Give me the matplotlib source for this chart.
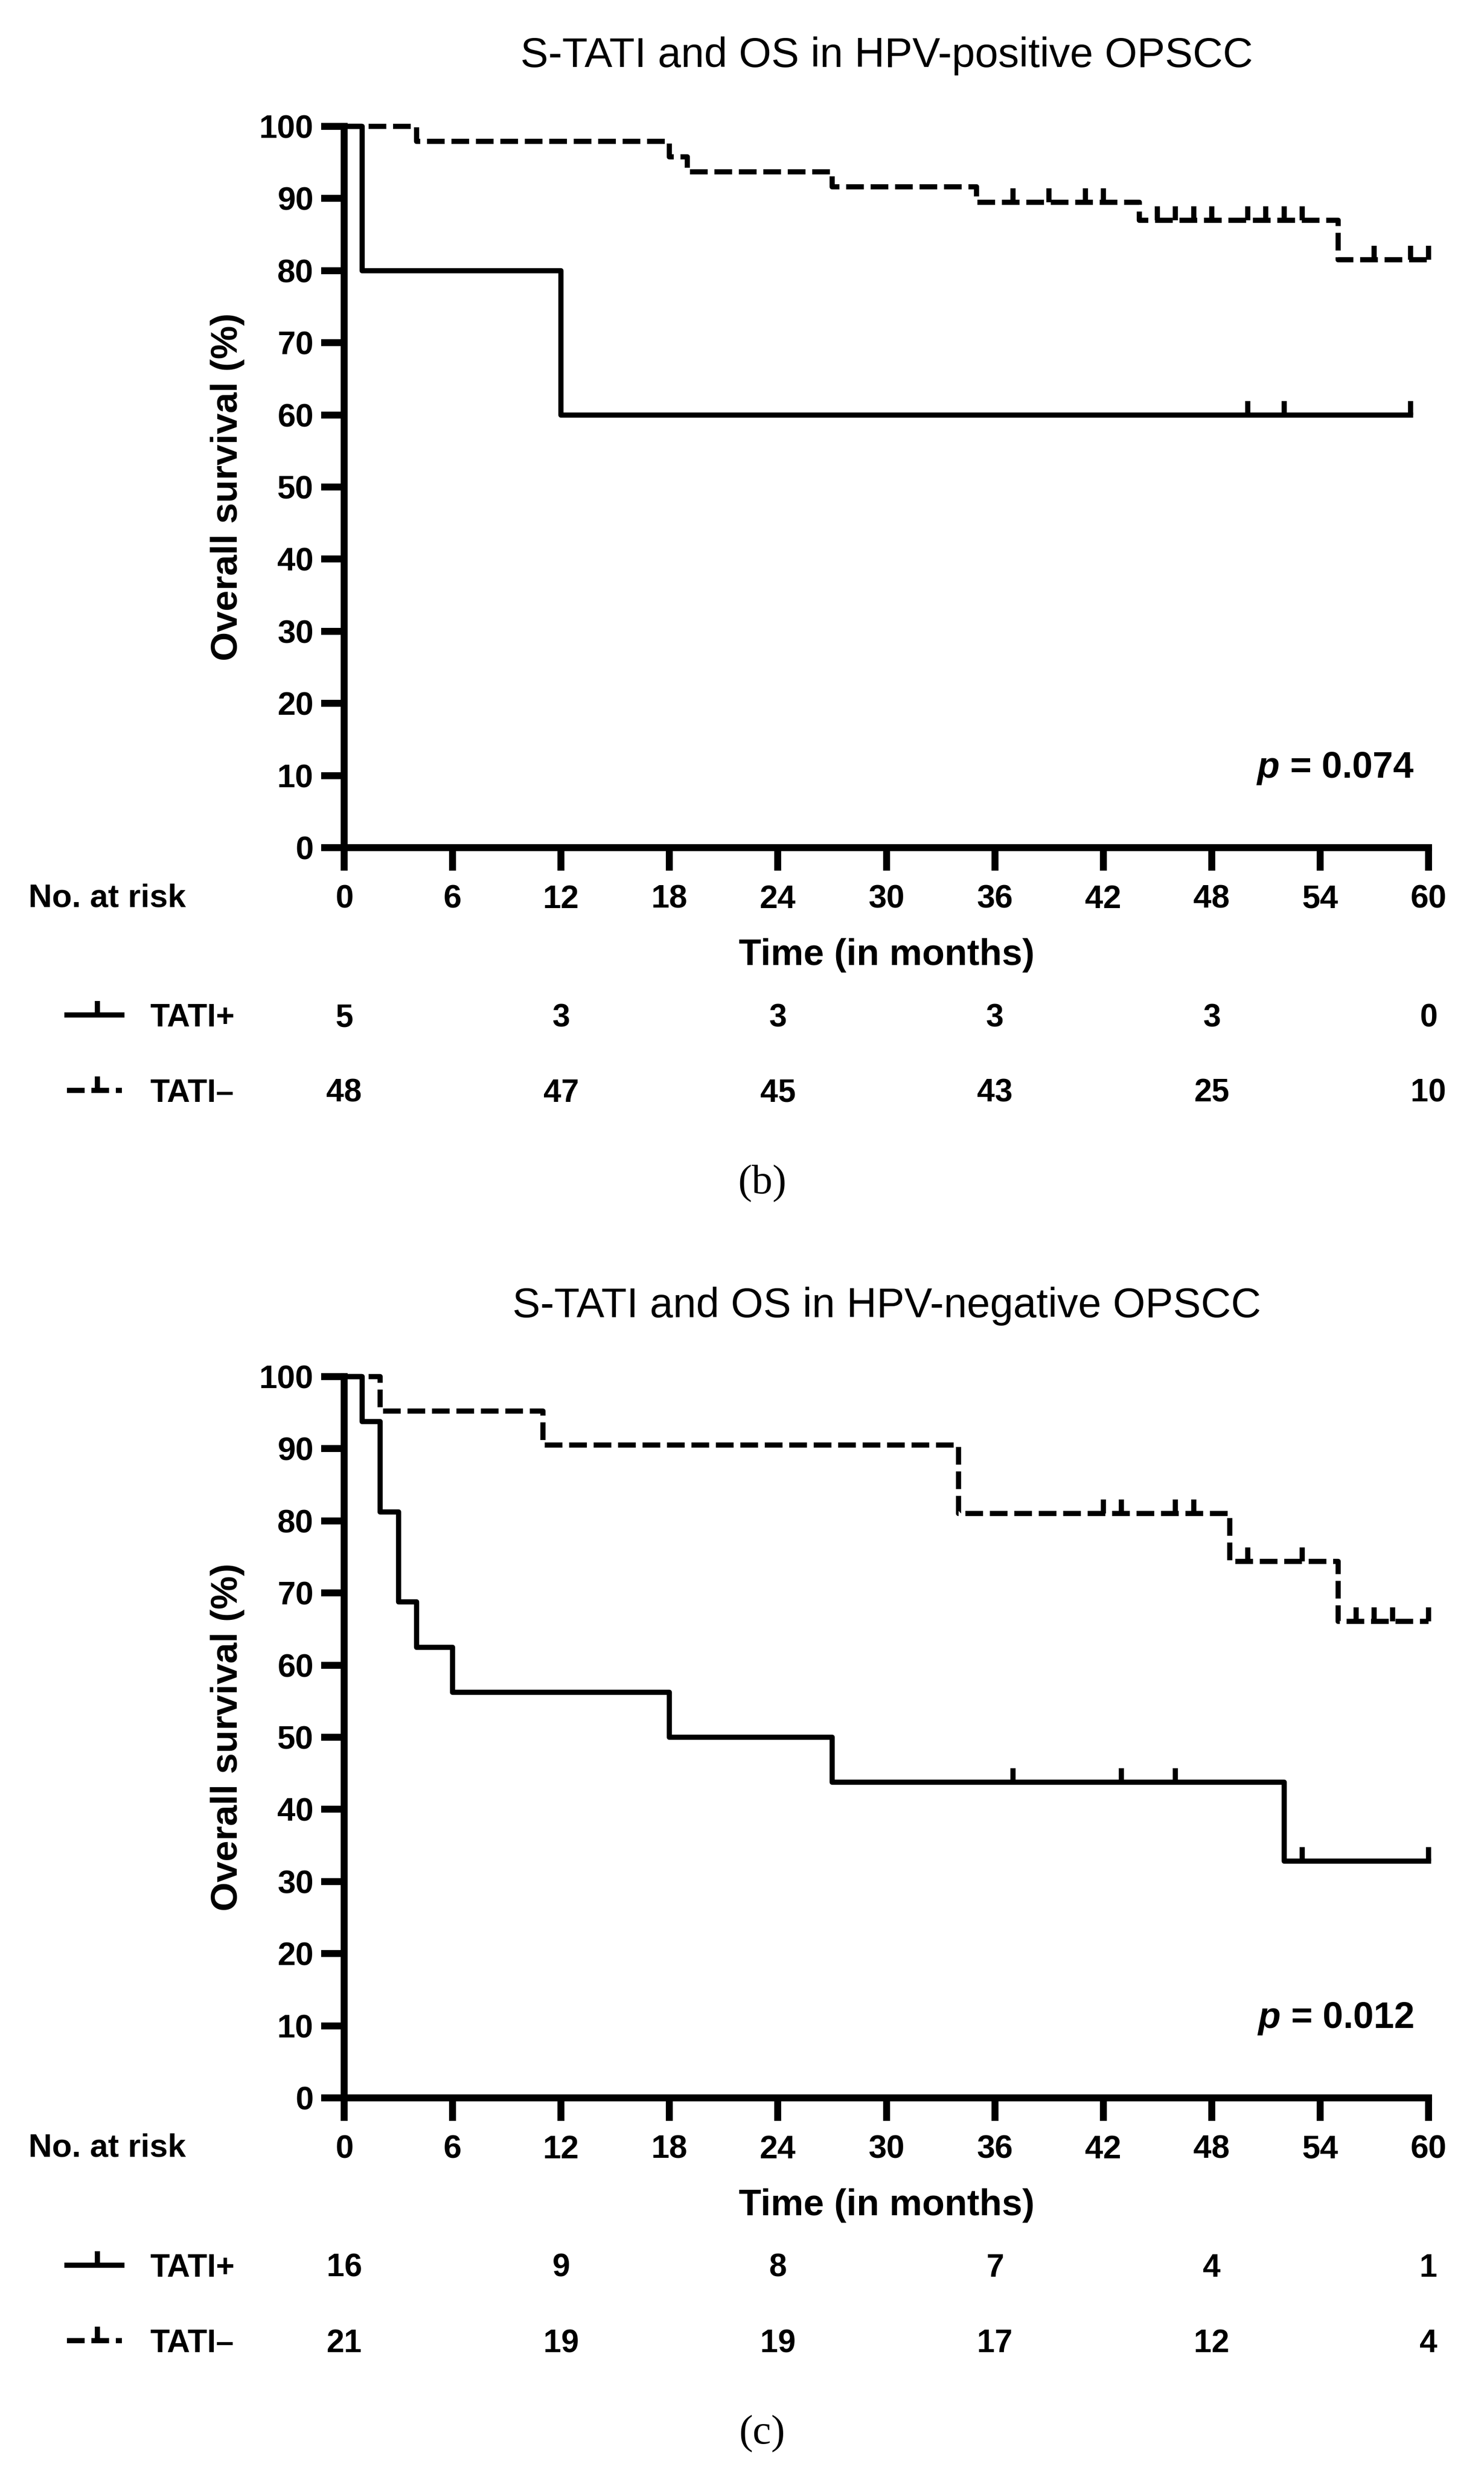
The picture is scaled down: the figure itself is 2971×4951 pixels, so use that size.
import numpy as np
import matplotlib
matplotlib.use("Agg")
import matplotlib.pyplot as plt
from matplotlib.lines import Line2D

plt.rcParams['font.family'] = ['Liberation Sans', 'DejaVu Sans']
plt.rcParams['font.weight'] = 'bold'
plt.rcParams['mathtext.fontset'] = 'custom'
plt.rcParams['mathtext.it'] = 'Liberation Sans:italic:bold'
plt.rcParams['mathtext.rm'] = 'Liberation Sans:bold'

W, H = 2971, 4951  # output size in pixels

# ---- panel (b): HPV-positive ----
b_title = "S-TATI and OS in HPV-positive OPSCC"
b_pos_time = [0, 1, 12, 59]
b_pos_surv = [100, 80, 60, 60]
b_pos_cens = [50, 52, 59]
b_neg_time = [0, 4, 18, 19, 27, 35, 44, 55, 60]
b_neg_surv = [100, 97.9, 95.8, 93.7, 91.6, 89.5, 87.0, 81.5, 81.5]
b_neg_cens = [37, 39, 41, 42, 45, 46, 47, 48, 50, 51, 52, 53, 57, 59, 60]
b_risk_pos = [5, 3, 3, 3, 3, 0]
b_risk_neg = [48, 47, 45, 43, 25, 10]
b_p = "0.074"

# ---- panel (c): HPV-negative ----
c_title = "S-TATI and OS in HPV-negative OPSCC"
c_pos_time = [0, 1, 2, 3, 4, 6, 18, 27, 52, 60]
c_pos_surv = [100, 93.75, 81.25, 68.75, 62.5, 56.25, 50.0, 43.75, 32.8, 32.8]
c_pos_cens = [37, 43, 46, 53, 60]
c_neg_time = [0, 2, 11, 34, 49, 55, 60]
c_neg_surv = [100, 95.2, 90.5, 81.0, 74.4, 66.1, 66.1]
c_neg_cens = [42, 43, 46, 47, 50, 53, 56, 57, 58, 60]
c_risk_pos = [16, 9, 8, 7, 4, 1]
c_risk_neg = [21, 19, 19, 17, 12, 4]
c_p = "0.012"

risk_months = [0, 12, 24, 36, 48, 60]
x_ticks = np.arange(0, 61, 6)
y_ticks = np.arange(0, 101, 10)

LW = 7.5
DASH = (0, (3.4, 1.3))


def fx(px):
    return px / W


def fy(py):
    return 1 - py / H


def level_at(times, surv, t):
    idx = np.searchsorted(times, t, side='right') - 1
    return np.asarray(surv)[idx]


def draw_panel(fig, off, title, pos_t, pos_s, pos_c, neg_t, neg_s, neg_c,
               risk_pos, risk_neg, pval, tag):
    ax = fig.add_axes([fx(689), fy(1697 + off), fx(2860 - 689), (1697 - 253) / H])

    ax.step(neg_t, neg_s, where='post', color='black', lw=LW, ls=DASH, clip_on=False)
    ax.step(pos_t, pos_s, where='post', color='black', lw=LW, clip_on=False)
    # censor ticks
    ax.plot(neg_c, level_at(neg_t, neg_s, neg_c), ls='none', marker=2, ms=20,
            mew=LW, color='black', clip_on=False)
    ax.plot(pos_c, level_at(pos_t, pos_s, pos_c), ls='none', marker=2, ms=20,
            mew=LW, color='black', clip_on=False)

    ax.set_xlim(0, 60)
    ax.set_ylim(0, 100)
    ax.set_xticks(x_ticks)
    ax.set_yticks(y_ticks)
    for s in ['top', 'right']:
        ax.spines[s].set_visible(False)
    for s in ['left', 'bottom']:
        ax.spines[s].set_linewidth(10)
    ax.tick_params(width=10, length=33, labelsize=47)
    ax.tick_params(axis='x', pad=20)
    ax.tick_params(axis='y', pad=11)

    ax.text(59.2, 9.7, r'$p$ = ' + pval, ha='right', va='baseline', fontsize=53)

    fig.text(fx(1775), fy(134 + off), title, ha='center', va='baseline',
             fontsize=60, fontweight='normal')
    fig.text(fx(455), fy(975 + off), 'Overall survival (%)', ha='center',
             va='center', rotation=90, fontsize=54)
    fig.text(fx(57), fy(1815 + off), 'No. at risk', ha='left', va='baseline',
             fontsize=47)
    fig.text(fx(1775), fy(1932 + off), 'Time (in months)', ha='center',
             va='baseline', fontsize=53)

    # at-risk table
    for row_y, lab, vals, ls in [(2032, 'TATI+', risk_pos, '-'),
                                 (2183, 'TATI\u2013', risk_neg, DASH)]:
        fig.add_artist(Line2D([fx(134), fx(244)], [fy(row_y + off)] * 2,
                              transform=fig.transFigure, color='black', lw=LW, ls=ls))
        fig.add_artist(Line2D([fx(195)], [fy(row_y + off)], transform=fig.transFigure,
                              ls='none', marker=2, ms=20, mew=LW, color='black'))
        fig.text(fx(300), fy(row_y + 23 + off), lab, ha='left', va='baseline',
                 fontsize=46)
        for m, v in zip(risk_months, vals):
            xp = 689 + m * (2860 - 689) / 60
            fig.text(fx(xp), fy(row_y + 23 + off), str(v), ha='center',
                     va='baseline', fontsize=46)

    fig.text(fx(1526), fy(2370 + off), tag, ha='center', va='center',
             fontsize=60, fontweight='normal', family=['Liberation Serif'])
    return ax


fig = plt.figure(figsize=(W / 100, H / 100), dpi=100)
fig.patch.set_facecolor('white')

draw_panel(fig, 0, b_title, b_pos_time, b_pos_surv, b_pos_cens,
           b_neg_time, b_neg_surv, b_neg_cens, b_risk_pos, b_risk_neg, b_p, '(b)')
draw_panel(fig, 2503, c_title, c_pos_time, c_pos_surv, c_pos_cens,
           c_neg_time, c_neg_surv, c_neg_cens, c_risk_pos, c_risk_neg, c_p, '(c)')

fig.savefig('out.png', dpi=100)
